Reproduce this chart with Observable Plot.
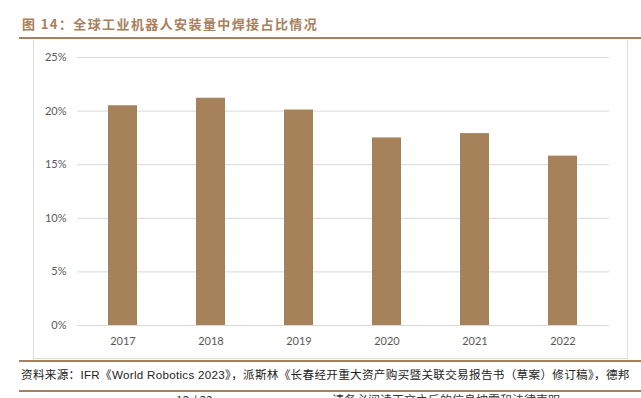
<!DOCTYPE html>
<html>
<head>
<meta charset="utf-8">
<script src="https://cdn.jsdelivr.net/npm/d3@7"></script>
<script src="https://cdn.jsdelivr.net/npm/@observablehq/plot@0.6"></script>
<style>
  html, body { margin: 0; padding: 0; background: #fff; }
  #page { position: relative; width: 641px; height: 398px; overflow: hidden; background: #fff; }
  #title { position: absolute; left: 22px; top: 15px; font-family: "Noto Sans CJK SC", sans-serif; font-weight: bold; font-size: 13px; letter-spacing: 1.4px; color: #a8805c; white-space: nowrap; line-height: 18px; }
  .brown { position: absolute; left: 19px; right: 0; height: 2px; background: #a8805e; }
  #box { position: absolute; left: 33px; top: 40px; width: 593px; height: 318px; border: 1px solid #dcdcdc; border-top: none; box-sizing: content-box; pointer-events: none; }
  #chart { position: absolute; left: 0; top: 40px; }
  #source { position: absolute; left: 21px; top: 368px; font-family: "Liberation Sans", "Noto Sans CJK SC", sans-serif; font-size: 11.6px; letter-spacing: 0.3px; color: #222; white-space: nowrap; line-height: 14px; }
  .footer { position: absolute; top: 393px; font-family: "Noto Sans CJK SC", sans-serif; font-size: 12px; color: #333; white-space: nowrap; line-height: 14px; }
</style>
</head>
<body>
<div id="page">
  <div id="title">图 14：全球工业机器人安装量中焊接占比情况</div>
  <div class="brown" style="top:37px;"></div>
  <div id="chart"></div>
  <div id="box"></div>
  <div class="brown" style="top:360px;"></div>
  <div id="source">资料来源：IFR《World Robotics 2023》，派斯林《长春经开重大资产购买暨关联交易报告书（草案）修订稿》，德邦</div>
  <div class="brown" style="top:390px;"></div>
  <div class="footer" style="left:176px;">12 / 33</div>
  <div class="footer" style="left:332px;">请务必阅读正文之后的信息披露和法律声明</div>
</div>
<script>
const years = ["2017", "2018", "2019", "2020", "2021", "2022"];
const weldingShare = [20.5, 21.2, 20.1, 17.5, 17.9, 15.8];
const yTicks = [0, 5, 10, 15, 20, 25];

const data = years.map((year, i) => ({year, share: weldingShare[i]}));

const chart = Plot.plot({
  width: 641,
  height: 319,
  marginLeft: 77,
  marginRight: 32,
  marginTop: 17,
  marginBottom: 34,
  style: {fontFamily: "Lato, 'Liberation Sans', sans-serif", fontSize: "11px", color: "#595959", background: "transparent"},
  x: {domain: years, paddingInner: 0.67, paddingOuter: 0.335, label: null},
  y: {domain: [0, 25], label: null},
  marks: [
    Plot.ruleY(yTicks, {stroke: "#d9d9d9", strokeWidth: 1}),
    Plot.barY(data, {x: "year", y: "share", fill: "#a6825a"}),
    Plot.axisX({tickSize: 0, tickPadding: 12, label: null, fontSize: 11}),
    Plot.axisY({ticks: yTicks, tickSize: 0, tickPadding: 11, tickFormat: d => d + "%", label: null, fontSize: 11})
  ]
});
document.getElementById("chart").appendChild(chart);
</script>
</body>
</html>
